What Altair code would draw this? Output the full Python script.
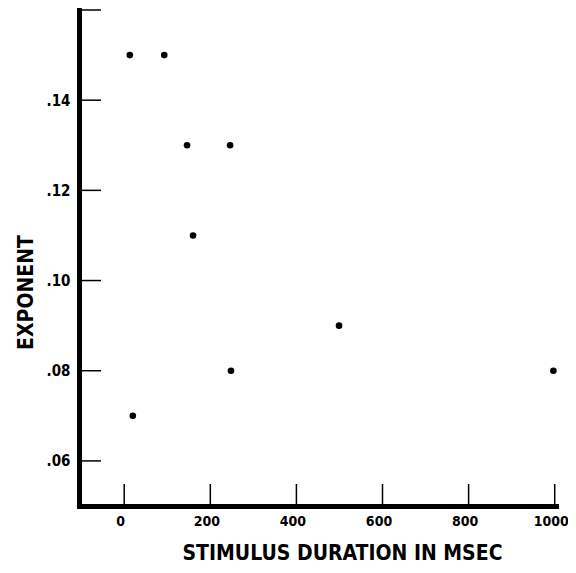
import altair as alt
import pandas as pd

# Data
duration = [13, 93, 146, 246, 160, 20, 248, 499, 997]
exponent = [0.150, 0.150, 0.130, 0.130, 0.110, 0.070, 0.080, 0.090, 0.080]
x_ticks = [0, 200, 400, 600, 800, 1000]
y_ticks = [0.06, 0.08, 0.10, 0.12, 0.14]
y_ticks_all = [0.06, 0.08, 0.10, 0.12, 0.14, 0.16]

FONT = "DejaVu Sans Condensed"
W, H = 477, 496
X_DOMAIN = [-105, 1003]
Y_DOMAIN = [0.05, 0.16]

pts = pd.DataFrame({"duration": duration, "exponent": exponent})
xt = pd.DataFrame({"v": x_ticks})
yt = pd.DataFrame({"v": y_ticks_all})

xscale = alt.Scale(domain=X_DOMAIN, nice=False, zero=False)
yscale = alt.Scale(domain=Y_DOMAIN, nice=False, zero=False)

points = alt.Chart(pts).mark_circle(color="black", size=44, opacity=1).encode(
    x=alt.X("duration:Q", scale=xscale, axis=alt.Axis(
        title="STIMULUS DURATION IN MSEC", values=x_ticks, ticks=False, grid=False,
        format="d",
        labelFont=FONT, labelFontSize=14, labelFontWeight="bold", labelColor="black",
        labelPadding=8, labelOffset=-4, labelFlush=False, labelOverlap=False,
        domainColor="black", domainWidth=5, domainCap="square",
        titleFont=FONT, titleFontSize=21, titleFontWeight="bold", titleColor="black",
        titleX=263, titleY=53, titleBaseline="alphabetic", titleAlign="center")),
    y=alt.Y("exponent:Q", scale=yscale, axis=alt.Axis(
        title="EXPONENT", values=y_ticks, ticks=False, grid=False,
        labelExpr="replace(format(datum.value, '.2f'), '0.', '.')",
        labelFont=FONT, labelFontSize=15, labelFontWeight="bold", labelColor="black",
        labelPadding=9, domainColor="black", domainWidth=5, domainCap="square",
        titleFont=FONT, titleFontSize=21, titleFontWeight="bold", titleColor="black",
        titleX=-47, titleY=282, titleBaseline="alphabetic", titleAlign="center", titleAngle=270)),
)

xtick_rules = alt.Chart(xt).mark_rule(color="black", strokeWidth=1.5).encode(
    x=alt.X("v:Q", scale=xscale),
    y=alt.value(H),
    y2=alt.value(H - 22),
)

ytick_rules = alt.Chart(yt).mark_rule(color="black", strokeWidth=1.5).encode(
    y=alt.Y("v:Q", scale=yscale),
    x=alt.value(0),
    x2=alt.value(22),
)

chart = alt.layer(xtick_rules, ytick_rules, points).properties(
    width=W, height=H,
    autosize=alt.AutoSizeParams(type="none"),
    padding={"left": 71, "top": 2, "right": 12, "bottom": 58},
    background="white",
).configure_view(stroke=None)

chart.save("out.html", embed_options={"renderer": "svg", "actions": False})
